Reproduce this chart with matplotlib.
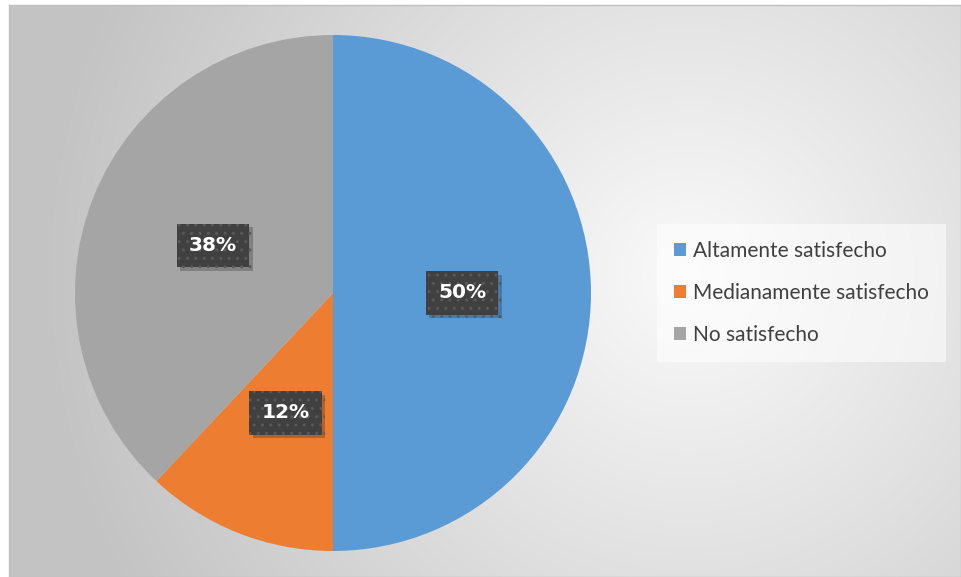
import matplotlib
matplotlib.use("Agg")
import matplotlib.pyplot as plt
import matplotlib.patheffects as pe
import numpy as np

labels = ["Altamente satisfecho", "Medianamente satisfecho", "No satisfecho"]
values = [50, 12, 38]
colors = ["#5B9BD5", "#ED7D31", "#A5A5A5"]

W, H = 961, 577
fig = plt.figure(figsize=(W / 100, H / 100), dpi=100)
fig.patch.set_facecolor("white")

# background: radial grey gradient, light near the legend
bg = fig.add_axes([9 / W, 0, (W - 9) / W, (H - 5) / H])
yy, xx = np.mgrid[0:572, 0:952]
d = np.hypot(xx - 680, yy - 270)
shade = 250 - 55 * np.clip(d / 650, 0, 1)
img = np.dstack([shade, shade, shade]) / 255.0
bg.imshow(img, aspect="auto", extent=[0, 1, 0, 1], origin="upper")
bg.set_xticks([])
bg.set_yticks([])
for s in bg.spines.values():
    s.set_color("#bfbfbf")
    s.set_linewidth(1)

# pie axes: centre (333, 293), radius 258 px
cx, cy, r = 333, 293, 258
ax = fig.add_axes([(cx - r) / W, (H - cy - r) / H, 2 * r / W, 2 * r / H])
wedges, texts, autotexts = ax.pie(
    values, colors=colors, startangle=90, counterclock=False,
    autopct="%1.0f%%", pctdistance=0.5, radius=1,
    textprops=dict(color="white", fontsize=14.5, fontweight="bold"),
)
ax.set_xlim(-1, 1)
ax.set_ylim(-1, 1)
ax.set_aspect("equal")
for t in autotexts:
    t.set_bbox(dict(boxstyle="square,pad=0.6", facecolor="#404040",
                    edgecolor="#595959", linewidth=0, hatch=".."))
    t.get_bbox_patch().set_path_effects(
        [pe.SimplePatchShadow(offset=(2.5, -2.5), shadow_rgbFace="#000000", alpha=0.22),
         pe.Normal()])

leg = fig.legend(
    wedges, labels, loc="center left",
    bbox_to_anchor=(657 / W, 1 - 293 / H), borderaxespad=0,
    frameon=True, labelcolor="#404040",
    handlelength=0.6, handleheight=0.6, handletextpad=0.35,
    labelspacing=1.05, borderpad=0.8, fancybox=False,
    prop=dict(family="Lato", size=15),
)
leg.get_frame().set_facecolor("#ffffff")
leg.get_frame().set_alpha(0.55)
leg.get_frame().set_linewidth(0)

fig.savefig("out.png", dpi=100)
